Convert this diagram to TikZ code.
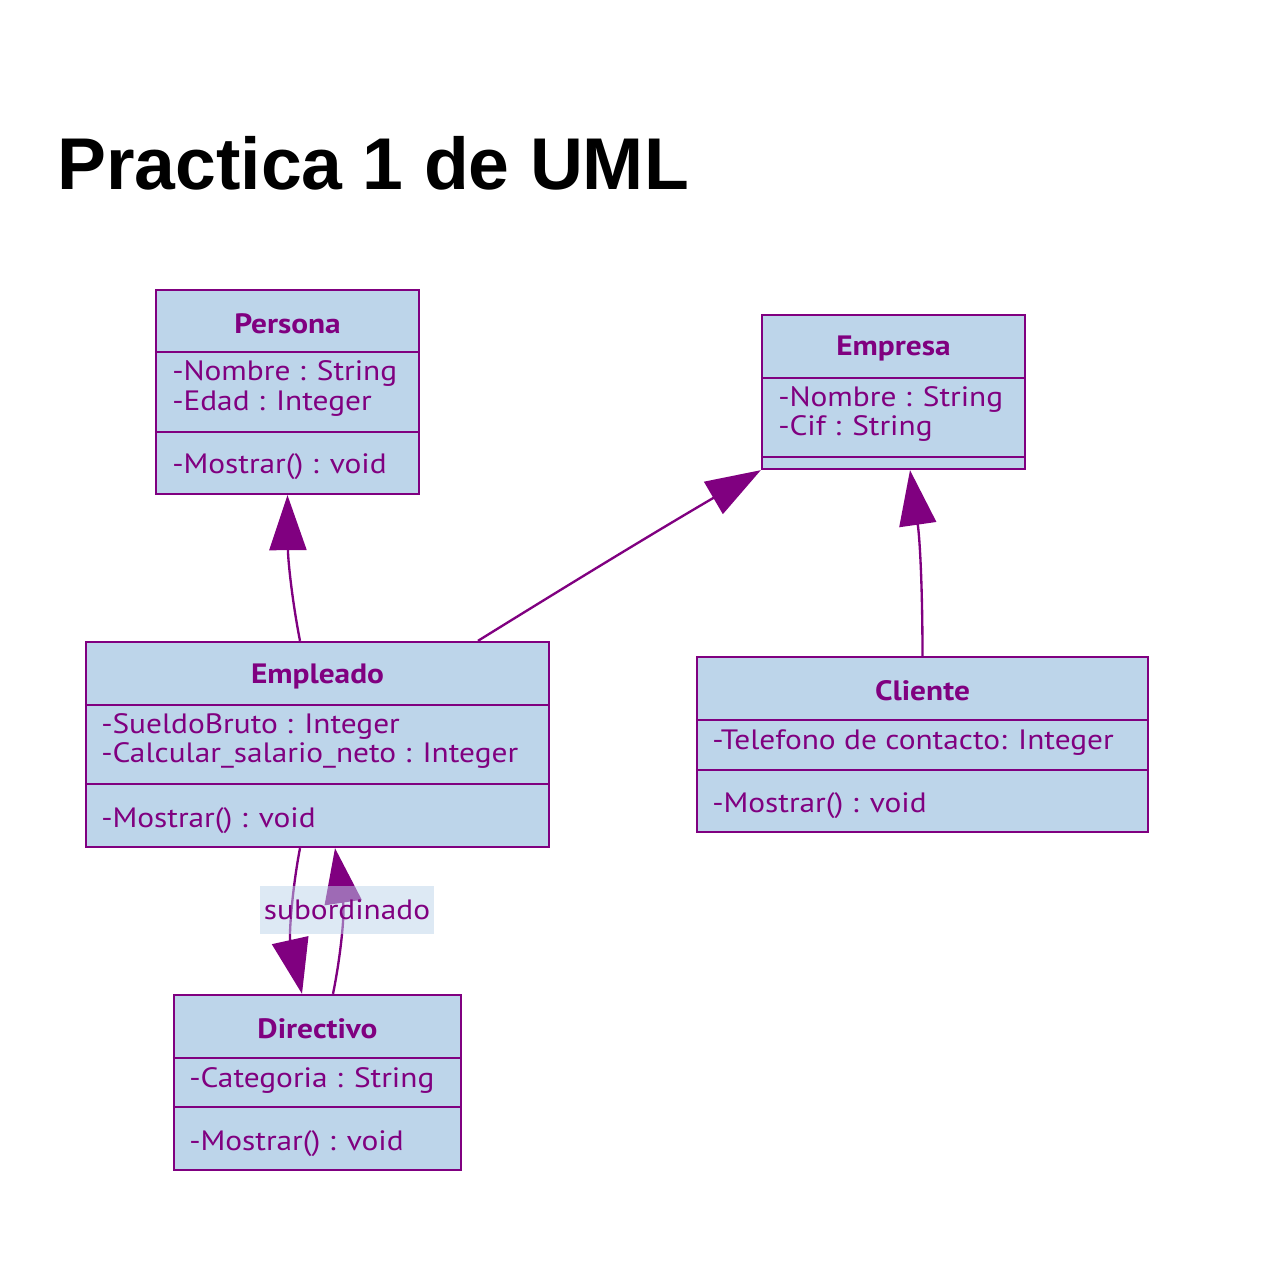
\documentclass[tikz,border=0pt]{standalone}
\usepackage{fontspec}
\setmainfont{PT Sans}
\newfontfamily\umlfont[FakeStretch=1.12]{PT Sans}
\newfontfamily\titlefont{Liberation Sans}
\usetikzlibrary{arrows.meta,calc}
\definecolor{umlfill}{RGB}{189,213,234}
\definecolor{umlline}{RGB}{128,0,128}
\tikzset{
  classbox/.style={draw=umlline, fill=umlfill, line width=1.75pt, rectangle, inner sep=0pt},
  sepline/.style={draw=umlline, line width=1.75pt},
  cname/.style={text=umlline, font=\umlfont\fontsize{21}{25}\selectfont\bfseries, inner sep=0pt},
  attr/.style={text=umlline, font=\umlfont\fontsize{21}{25}\selectfont, inner sep=0pt, anchor=base west},
  arr/.style={draw=umlline, line width=1.75pt, -{Triangle[length=41.25pt, width=27.75pt]}},
  lbl/.style={fill=umlfill, fill opacity=0.5, text opacity=1, text=umlline, font=\umlfont\fontsize{21}{25}\selectfont, inner sep=0pt, minimum width=130.5pt, minimum height=36pt}
}
\begin{document}
\begin{tikzpicture}[x=0.75pt,y=-0.75pt]
\useasboundingbox (0,0) rectangle (1283,1262);
\fill[white] (0,0) rectangle (1283,1262);

% title
\node[anchor=base west, inner sep=0pt, font=\titlefont\fontsize{55}{60}\selectfont\bfseries] (title) at (57,190) {Practica 1 de UML};

% Persona
\node[classbox, minimum width=197.25pt, minimum height=153pt] (persona) at (287.5,392) {};
\draw[sepline] (persona.west |- 0,352) -- (persona.east |- 0,352);
\draw[sepline] (persona.west |- 0,432) -- (persona.east |- 0,432);
\node[cname] (personaT) at (287.5,324) {Persona};
\node[attr] (personaA1) at (172,381) {-Nombre : String};
\node[attr] (personaA2) at (172,411) {-Edad : Integer};
\node[attr] (personaM1) at (172,474) {-Mostrar() : void};

% Empresa
\node[classbox, minimum width=197.25pt, minimum height=115.5pt] (empresa) at (893.5,392) {};
\draw[sepline] (empresa.west |- 0,378) -- (empresa.east |- 0,378);
\draw[sepline] (empresa.west |- 0,457) -- (empresa.east |- 0,457);
\node[cname] (empresaT) at (893.5,349) {Empresa};
\node[attr] (empresaA1) at (778,407) {-Nombre : String};
\node[attr] (empresaA2) at (778,436) {-Cif : String};

% Empleado
\node[classbox, minimum width=347.25pt, minimum height=153.75pt] (empleado) at (317.5,744.5) {};
\draw[sepline] (empleado.west |- 0,705) -- (empleado.east |- 0,705);
\draw[sepline] (empleado.west |- 0,784) -- (empleado.east |- 0,784);
\node[cname] (empleadoT) at (317.5,676) {Empleado};
\node[attr] (empleadoA1) at (101,734) {-SueldoBruto : Integer};
\node[attr] (empleadoA2) at (101,763) {-Calcular\_salario\_neto : Integer};
\node[attr] (empleadoM1) at (101,827) {-Mostrar() : void};

% Cliente
\node[classbox, minimum width=338.25pt, minimum height=131.25pt] (cliente) at (922.5,744.5) {};
\draw[sepline] (cliente.west |- 0,720) -- (cliente.east |- 0,720);
\draw[sepline] (cliente.west |- 0,770) -- (cliente.east |- 0,770);
\node[cname] (clienteT) at (922.5,691) {Cliente};
\node[attr] (clienteA1) at (712,749) {-Telefono de contacto: Integer};
\node[attr] (clienteM1) at (712,812) {-Mostrar() : void};

% Directivo
\node[classbox, minimum width=215.25pt, minimum height=131.25pt] (directivo) at (317.5,1082.5) {};
\draw[sepline] (directivo.west |- 0,1058) -- (directivo.east |- 0,1058);
\draw[sepline] (directivo.west |- 0,1107) -- (directivo.east |- 0,1107);
\node[cname] (directivoT) at (317.5,1029) {Directivo};
\node[attr] (directivoA1) at (189,1087) {-Categoria : String};
\node[attr] (directivoM1) at (189,1150) {-Mostrar() : void};

% connectors
\draw[arr] ($(empleado.north)+(-17.5,0)$) .. controls (292,600) and (288,560) .. (persona.south);
\draw[arr] ($(empleado.north)+(160.5,0)$) .. controls (560,590) and (650,535) .. (empresa.south west);
\draw[arr] (cliente.north) .. controls (922.5,590) and (920,540) .. ($(empresa.south)+(16.5,0)$);
\draw[arr] ($(empleado.south)+(-17.5,0)$) .. controls (292,890) and (289,935) .. ($(directivo.north)+(-15.5,0)$);
\draw[arr] ($(directivo.north)+(15.5,0)$) .. controls (340,960) and (345,915) .. ($(empleado.south)+(17.5,0)$);

\node[lbl] (sub) at (347,910) {subordinado};
\end{tikzpicture}
\end{document}
